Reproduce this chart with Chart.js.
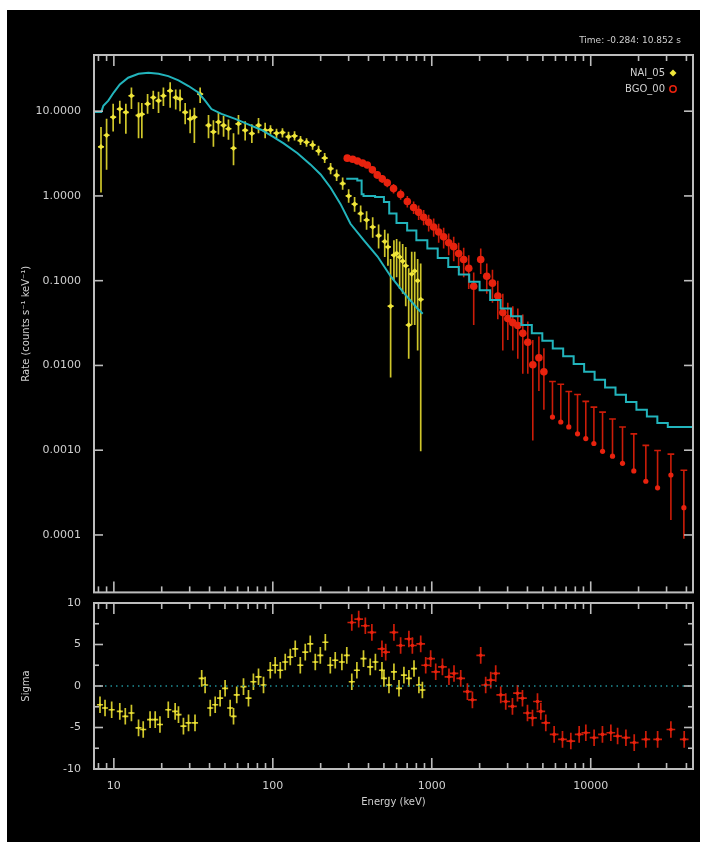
<!DOCTYPE html>
<html><head><meta charset="utf-8">
<script src="https://cdn.jsdelivr.net/npm/chart.js@4.4.1/dist/chart.umd.min.js"></script>
<style>
html,body{margin:0;padding:0;background:#fff;}
body{width:706px;height:850px;position:relative;overflow:hidden;}
#bg{position:absolute;left:7px;top:10px;width:693px;height:832px;background:#000;}
canvas{position:absolute;left:0;}
#c1{top:0;} #c2{top:560px;}
</style></head><body>
<div id="bg"></div>
<canvas id="c1" width="706" height="604"></canvas>
<canvas id="c2" width="706" height="290"></canvas>
<script>
// ---------- axis ranges and tick labels ----------
const xMin = 7.5, xMax = 44000;
const yTopMin = 2.1e-5, yTopMax = 46;
const xTickValues = [10, 100, 1000, 10000];
const xTickLabels = ['10', '100', '1000', '10000'];
const yTopTicks = [0.0001, 0.001, 0.01, 0.1, 1, 10];
const yTopTickLabels = ['0.0001', '0.0010', '0.0100', '0.1000', '1.0000', '10.0000'];
const yResTicks = [-10, -5, 0, 5, 10];
const yResTickLabels = ['-10', '-5', '0', '5', '10'];
const yResMinor = [-7.5, -2.5, 2.5, 7.5];

// ---------- NaI_05 (yellow) count spectrum ----------
const naiE = [8.3, 9.0, 9.9, 10.9, 11.9, 12.9, 14.3, 15.0, 16.3, 17.7, 19.1, 20.5, 22.6, 24.5, 26.1, 28.1, 30.2, 32.1, 34.9, 39.4, 42.3, 45.5, 49.0, 52.6, 56.6, 60.8, 67.0, 73.8, 81.3, 89.5, 96.7, 105.5, 115, 125.6, 137, 149.4, 163, 178, 194, 212, 231, 252, 275, 300, 327, 357, 389, 425, 463, 506, 530, 551, 578, 601, 628, 656, 686, 716, 748, 781, 815, 852];
const naiRate = [3.8, 5.2, 8.5, 10.6, 9.7, 15.2, 8.9, 9.2, 12.2, 14.5, 13.3, 15.2, 17.4, 14.5, 13.9, 9.7, 8.1, 8.5, 15.9, 6.8, 5.7, 7.45, 6.8, 6.2, 3.65, 7.1, 5.95, 5.45, 6.8, 5.95, 6.0, 5.5, 5.6, 5.0, 5.1, 4.5, 4.3, 4.0, 3.4, 2.8, 2.1, 1.75, 1.4, 1.0, 0.80, 0.62, 0.52, 0.43, 0.34, 0.29, 0.25, 0.05, 0.20, 0.21, 0.19, 0.17, 0.15, 0.030, 0.12, 0.13, 0.10, 0.06];
const naiLo = [1.1, 2.04, 5.75, 7.1, 5.4, 10.6, 4.8, 4.8, 9.3, 10.6, 9.5, 11.5, 11, 10.5, 10, 7, 5.5, 4.2, 12.5, 4.8, 3.8, 5.3, 5, 4.6, 2.3, 5.3, 4.5, 4.2, 5.5, 4.8, 5.3, 4.8, 4.9, 4.4, 4.5, 4.0, 3.8, 3.5, 3.0, 2.45, 1.8, 1.5, 1.18, 0.83, 0.65, 0.49, 0.40, 0.32, 0.24, 0.19, 0.15, 0.0072, 0.10, 0.11, 0.08, 0.07, 0.05, 0.012, 0.03, 0.03, 0.015, 0.00097];
const naiHi = [6.5, 8.15, 12.2, 13.3, 12.2, 19, 12.7, 12.5, 15.9, 17.4, 17, 19, 22, 18, 18, 12.5, 10.5, 11, 19, 9, 7.8, 9.5, 8.8, 8, 5.5, 9, 7.6, 7, 8.3, 7.3, 6.8, 6.2, 6.3, 5.7, 5.8, 5.1, 4.8, 4.5, 3.9, 3.2, 2.45, 2.05, 1.65, 1.2, 0.97, 0.77, 0.66, 0.56, 0.46, 0.40, 0.36, 0.18, 0.30, 0.31, 0.29, 0.27, 0.25, 0.14, 0.22, 0.22, 0.18, 0.16];

// ---------- BGO_00 (red) count spectrum ----------
const bgoE = [294, 318, 341, 367, 393, 423, 454, 488, 525, 575, 637, 702, 769, 827, 889, 956, 1028, 1105, 1188, 1278, 1374, 1476, 1588, 1708, 1836, 2032, 2218, 2409, 2603, 2798, 3008, 3235, 3477, 3738, 4019, 4321, 4720, 5074, 5746, 6480, 7280, 8260, 9310, 10470, 11870, 13710, 15850, 18670, 22220, 26340, 31940, 38550];
const bgoRate = [2.79, 2.71, 2.58, 2.44, 2.32, 2.03, 1.77, 1.59, 1.43, 1.22, 1.04, 0.86, 0.73, 0.64, 0.56, 0.49, 0.43, 0.376, 0.329, 0.280, 0.252, 0.209, 0.178, 0.140, 0.086, 0.178, 0.113, 0.0935, 0.066, 0.042, 0.0357, 0.032, 0.0296, 0.0239, 0.0188, 0.0102, 0.0123, 0.0084, 0.00246, 0.00215, 0.00188, 0.00156, 0.00137, 0.00120, 0.00097, 0.00085, 0.00070, 0.00057, 0.00043, 0.00036, 0.00051, 0.00021];
const bgoLo = [2.6, 2.52, 2.4, 2.25, 2.12, 1.85, 1.6, 1.43, 1.27, 1.07, 0.9, 0.73, 0.61, 0.52, 0.45, 0.38, 0.33, 0.28, 0.24, 0.20, 0.17, 0.13, 0.11, 0.08, 0.03, 0.12, 0.07, 0.055, 0.035, 0.015, 0.02, 0.015, 0.012, 0.008, 0.008, 0.0013, 0.005, 0.003, 0.00246, 0.00215, 0.00188, 0.00156, 0.00137, 0.00120, 0.00097, 0.00085, 0.00070, 0.00057, 0.00043, 0.00036, 0.00015, 0.00009];
const bgoHi = [2.98, 2.9, 2.76, 2.63, 2.52, 2.22, 1.95, 1.76, 1.6, 1.38, 1.19, 1.0, 0.86, 0.77, 0.68, 0.60, 0.54, 0.47, 0.42, 0.36, 0.33, 0.28, 0.245, 0.2, 0.125, 0.24, 0.16, 0.135, 0.1, 0.07, 0.055, 0.05, 0.047, 0.04, 0.033, 0.02, 0.022, 0.016, 0.00646, 0.0060, 0.00493, 0.00454, 0.00377, 0.00322, 0.00281, 0.00233, 0.00188, 0.00156, 0.00114, 0.00099, 0.0009, 0.00058];

// ---------- model curves (cyan) ----------
const naiModelE = [7.5, 8.34, 8.59, 9.23, 10.0, 10.9, 12.3, 14.3, 16.5, 19.1, 22.0, 25.5, 29.5, 34.0, 37.5, 41.1, 47.5, 58, 70, 85, 100, 117, 143, 173, 200, 231, 267, 308, 372, 456, 551, 665, 815, 877];
const naiModelRate = [9.8, 9.8, 11.6, 13.3, 16.7, 20.7, 24.8, 27.6, 28.4, 27.6, 25.9, 23.1, 19.8, 16.6, 13.3, 10.6, 9.3, 8.1, 7.0, 6.0, 5.0, 4.17, 3.19, 2.34, 1.79, 1.25, 0.80, 0.469, 0.303, 0.193, 0.113, 0.0722, 0.0467, 0.0408];
const bgoModelE = [294, 340, 362, 372, 440, 500, 540, 600, 700, 800, 938, 1090, 1270, 1480, 1720, 2000, 2330, 2710, 3150, 3660, 4260, 4960, 5770, 6710, 7810, 9090, 10580, 12310, 14320, 16660, 19390, 22560, 26250, 30540, 35540, 44000];
const bgoModelRate = [1.64, 1.60, 1.52, 1.05, 1.0, 0.97, 0.85, 0.62, 0.48, 0.39, 0.30, 0.24, 0.185, 0.145, 0.118, 0.097, 0.077, 0.059, 0.047, 0.038, 0.030, 0.024, 0.0195, 0.0158, 0.0128, 0.0104, 0.0084, 0.0068, 0.0055, 0.0045, 0.0037, 0.0030, 0.0025, 0.0021, 0.00188, 0.00188];

// ---------- residuals (sigma) ----------
const naiResE = [8.18, 8.80, 9.69, 10.9, 11.8, 12.9, 14.3, 15.3, 16.9, 18.2, 19.5, 22.0, 24.3, 25.5, 27.4, 29.5, 32.4, 35.7, 37.5, 40.4, 43.4, 46.6, 50.1, 53.9, 56.6, 59.3, 65.4, 70.3, 75.5, 81.3, 87.4, 96.4, 103.5, 111.4, 119.7, 128.8, 138.4, 148.9, 160, 172, 185, 199, 214, 230, 247, 272, 292, 314, 338, 372, 410, 442, 486, 500, 538, 578, 622, 668, 718, 773, 830, 873];
const naiSigma = [-2.26, -2.65, -2.86, -3.06, -3.65, -3.25, -5.04, -5.24, -4.05, -4.05, -4.64, -2.86, -3.06, -3.45, -4.84, -4.44, -4.44, 0.92, 0.12, -2.65, -2.26, -1.47, -0.28, -2.65, -3.65, -1.07, -0.08, -1.47, 0.51, 1.11, 0.12, 1.90, 2.50, 1.90, 2.89, 3.49, 4.48, 2.50, 4.08, 5.08, 2.89, 3.69, 5.27, 2.50, 3.10, 2.89, 3.69, 0.51, 1.90, 3.30, 2.30, 2.89, 1.90, 0.92, 0.12, 1.71, -0.28, 1.31, 0.92, 2.10, 0.12, -0.48];
const bgoResE = [314, 347, 382, 420, 486, 513, 578, 637, 718, 755, 852, 916, 984, 1059, 1167, 1283, 1380, 1521, 1676, 1802, 2032, 2184, 2349, 2525, 2716, 2920, 3218, 3461, 3721, 4001, 4302, 4625, 4853, 5217, 5886, 6643, 7496, 8458, 9317, 10502, 11850, 13386, 14760, 16650, 18780, 22220, 26360, 31940, 38740];
const bgoSigma = [7.65, 8.06, 7.26, 6.46, 4.48, 4.08, 6.46, 4.88, 5.67, 4.88, 5.08, 2.50, 3.30, 1.71, 2.30, 1.11, 1.51, 0.92, -0.68, -1.67, 3.69, 0.12, 0.71, 1.51, -1.07, -1.87, -2.46, -0.87, -1.47, -3.25, -3.85, -1.87, -3.06, -4.44, -5.83, -6.43, -6.63, -5.83, -5.63, -6.23, -5.83, -5.63, -6.03, -6.23, -6.82, -6.43, -6.43, -5.24, -6.43];

// ---------- styles ----------
const TXT = '#cfcfcf', AXIS = '#bdbdbd';
const YEL = '#efe53a', YEL_ERR = '#cfc62a', RED = '#e8220e', RED_ERR = '#cc1c08', CYAN = '#22b4bc';
Chart.defaults.font.family = "'DejaVu Sans', 'Liberation Sans', sans-serif";
Chart.defaults.color = TXT;

const pts = (xs, ys) => xs.map((x, i) => ({x: x, y: ys[i]}));
const xMinor = [];
[1, 10, 100, 1000, 10000].forEach(d => { for (let k = 2; k <= 9; k++) { const v = k * d; if (v > xMin && v < xMax) xMinor.push(v); } });

const errorBars = {
  id: 'errorBars',
  beforeDatasetsDraw(chart) {
    const ctx = chart.ctx, a = chart.chartArea;
    ctx.save();
    ctx.beginPath(); ctx.rect(a.left, a.top, a.right - a.left, a.bottom - a.top); ctx.clip();
    const dsets = chart.data.datasets;
    for (let i = dsets.length - 1; i >= 0; i--) {
      const ds = dsets[i];
      if (!ds.errLo) continue;
      const meta = chart.getDatasetMeta(i), xs = meta.xScale, ys = meta.yScale;
      ctx.strokeStyle = ds.errColor; ctx.lineWidth = ds.errWidth || 1.2;
      ds.data.forEach((p, j) => {
        const x = xs.getPixelForValue(p.x), y = ys.getPixelForValue(p.y);
        const yl = ys.getPixelForValue(ds.errLo[j]), yh = ys.getPixelForValue(ds.errHi[j]);
        const cap = ds.capFromX !== undefined && p.x >= ds.capFromX;
        const f = cap ? ds.capFac : ds.xFac;
        const xl = xs.getPixelForValue(p.x / f), xr = xs.getPixelForValue(p.x * f);
        ctx.beginPath();
        ctx.moveTo(x, yl); ctx.lineTo(x, yh);
        if (cap) { ctx.moveTo(xl, yh); ctx.lineTo(xr, yh); }
        else { ctx.moveTo(xl, y); ctx.lineTo(xr, y); }
        ctx.stroke();
      });
    }
    ctx.restore();
  }
};

const frameTicks = {
  id: 'frameTicks',
  afterDatasetsDraw(chart, args, o) {
    const {ctx, chartArea: a, scales} = chart;
    const xs = scales.x, ys = scales.y;
    ctx.save();
    ctx.strokeStyle = AXIS; ctx.lineWidth = 1.6;
    const ln = (x1, y1, x2, y2) => { ctx.beginPath(); ctx.moveTo(x1, y1); ctx.lineTo(x2, y2); ctx.stroke(); };
    xTickValues.forEach(v => { const x = xs.getPixelForValue(v); ln(x, a.top, x, a.top + 11); ln(x, a.bottom, x, a.bottom - 11); });
    xMinor.forEach(v => { const x = xs.getPixelForValue(v); ln(x, a.top, x, a.top + 6); ln(x, a.bottom, x, a.bottom - 6); });
    o.yMajor.forEach(v => { const y = ys.getPixelForValue(v); ln(a.left, y, a.left + 9, y); ln(a.right, y, a.right - 9, y); });
    (o.yMinor || []).forEach(v => { const y = ys.getPixelForValue(v); ln(a.left, y, a.left + 5, y); ln(a.right, y, a.right - 5, y); });
    ctx.lineWidth = 2;
    ctx.strokeRect(a.left, a.top, a.right - a.left, a.bottom - a.top);
    ctx.restore();
  }
};

const annot = {
  id: 'annot',
  afterDraw(chart) {
    const ctx = chart.ctx;
    ctx.save();
    ctx.fillStyle = TXT; ctx.textAlign = 'right'; ctx.textBaseline = 'middle';
    ctx.font = "9px 'DejaVu Sans', sans-serif";
    ctx.fillText('Time: -0.284: 10.852 s', 681, 41);
    ctx.font = "10px 'DejaVu Sans', sans-serif";
    ctx.fillText('NAI_05', 665, 73);
    ctx.fillText('BGO_00', 665, 89);
    ctx.fillStyle = YEL;
    ctx.beginPath(); ctx.moveTo(673, 69.5); ctx.lineTo(676.5, 73); ctx.lineTo(673, 76.5); ctx.lineTo(669.5, 73); ctx.closePath(); ctx.fill();
    ctx.strokeStyle = RED; ctx.lineWidth = 1.5;
    ctx.beginPath(); ctx.arc(673, 89, 3.2, 0, Math.PI * 2); ctx.stroke();
    ctx.restore();
  }
};

// ---------- top panel ----------
new Chart(document.getElementById('c1'), {
  type: 'scatter',
  data: {
    datasets: [
      {data: pts(naiModelE, naiModelRate), showLine: true, borderColor: CYAN, borderWidth: 2, pointRadius: 0, tension: 0},
      {data: pts(bgoModelE, bgoModelRate), showLine: true, stepped: 'after', borderColor: CYAN, borderWidth: 2, pointRadius: 0},
      {data: pts(naiE, naiRate), pointStyle: 'rectRot', pointRadius: 2.8, backgroundColor: YEL, borderColor: YEL, borderWidth: 0,
       errLo: naiLo, errHi: naiHi, errColor: YEL_ERR, errWidth: 1.7, xFac: 1.045},
      {data: pts(bgoE, bgoRate), pointStyle: 'circle', pointRadius: c => (c.raw && c.raw.x >= 5500 ? 2.6 : 3.8),
       backgroundColor: RED, borderColor: RED, borderWidth: 0,
       errLo: bgoLo, errHi: bgoHi, errColor: RED_ERR, errWidth: 1.6, xFac: 1.03, capFromX: 5500, capFac: 1.05}
    ]
  },
  options: {
    responsive: false, animation: false, events: [],
    layout: {padding: {left: 8, right: 13, top: 55, bottom: 4}},
    plugins: {legend: {display: false}, tooltip: {enabled: false}, frameTicks: {yMajor: yTopTicks}},
    scales: {
      x: {type: 'logarithmic', min: xMin, max: xMax, display: false},
      y: {type: 'logarithmic', min: yTopMin, max: yTopMax, position: 'left',
        afterBuildTicks: s => { s.ticks = yTopTicks.map(v => ({value: v})); },
        afterFit: s => { s.width = 86; },
        grid: {display: false}, border: {display: false},
        ticks: {padding: 5, color: TXT, font: {size: 11}, autoSkip: false, callback: (v, i) => yTopTickLabels[i]},
        title: {display: true, text: 'Rate (counts s\u207B\u00B9 keV\u207B\u00B9)', color: TXT, font: {size: 10}, padding: {top: 12, bottom: 0}}
      }
    }
  },
  plugins: [errorBars, frameTicks, annot]
});

// ---------- residual panel ----------
new Chart(document.getElementById('c2'), {
  type: 'scatter',
  data: {
    datasets: [
      {data: [{x: xMin, y: 0}, {x: xMax, y: 0}], showLine: true, borderColor: '#1f8e96', borderWidth: 1.5, borderDash: [1.5, 4], pointRadius: 0},
      {data: pts(naiResE, naiSigma), pointStyle: 'rectRot', pointRadius: 1.6, backgroundColor: YEL, borderWidth: 0,
       errLo: naiSigma.map(v => v - 1), errHi: naiSigma.map(v => v + 1), errColor: YEL_ERR, errWidth: 1.7, xFac: 1.045},
      {data: pts(bgoResE, bgoSigma), pointStyle: 'circle', pointRadius: 1.8, backgroundColor: RED, borderWidth: 0,
       errLo: bgoSigma.map(v => v - 1), errHi: bgoSigma.map(v => v + 1), errColor: RED_ERR, errWidth: 1.7, xFac: 1.065}
    ]
  },
  options: {
    responsive: false, animation: false, events: [],
    layout: {padding: {left: 8, right: 13, top: 43, bottom: 20}},
    plugins: {legend: {display: false}, tooltip: {enabled: false}, frameTicks: {yMajor: yResTicks, yMinor: yResMinor}},
    scales: {
      x: {type: 'logarithmic', min: xMin, max: xMax, position: 'bottom',
        afterBuildTicks: s => { s.ticks = xTickValues.map(v => ({value: v})); },
        afterFit: s => { s.height = 61; },
        grid: {display: false}, border: {display: false},
        ticks: {padding: 3, color: TXT, font: {size: 11}, maxRotation: 0, autoSkip: false, callback: (v, i) => xTickLabels[i]},
        title: {display: true, text: 'Energy (keV)', color: TXT, font: {size: 10}, padding: {top: 0, bottom: 22}}
      },
      y: {type: 'linear', min: -10, max: 10, position: 'left',
        afterBuildTicks: s => { s.ticks = yResTicks.map(v => ({value: v})); },
        afterFit: s => { s.width = 86; },
        grid: {display: false}, border: {display: false},
        ticks: {padding: 5, color: TXT, font: {size: 11}, autoSkip: false, callback: (v, i) => yResTickLabels[i]},
        title: {display: true, text: 'Sigma', color: TXT, font: {size: 10}, padding: {top: 12, bottom: 0}}
      }
    }
  },
  plugins: [errorBars, frameTicks]
});
</script>
</body></html>
